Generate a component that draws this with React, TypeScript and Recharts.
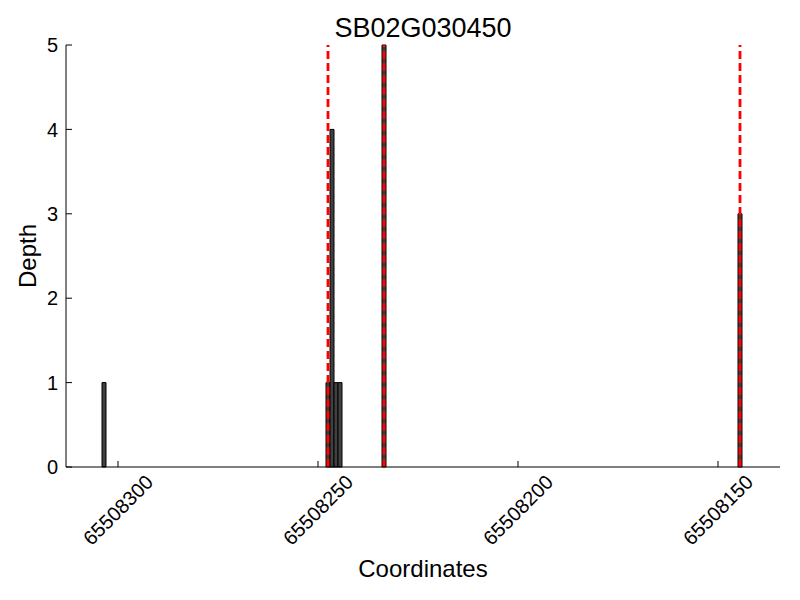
import { BarChart, Bar, XAxis, YAxis, ReferenceLine, Label } from 'recharts';

const FONT = "'Liberation Sans', Arial, Helvetica, sans-serif";

// coverage bins: start coordinate of each 1-bp bin and its read depth
const binStarts = [65508304, 65508248, 65508247, 65508246, 65508245, 65508234, 65508145];
const depths = [1, 1, 4, 1, 1, 5, 3];

// red dashed marker positions
const markers = [65508247.5, 65508233.5, 65508144.5];

const xTicks = [65508300, 65508250, 65508200, 65508150];
const yTicks = [0, 1, 2, 3, 4, 5];

const data = binStarts.map((start, i) => ({ x: start - 0.5, depth: depths[i] }));

function XTick({ x, y, payload }: any) {
  const cy = y + 43;
  return (
    <text
      x={x}
      y={cy}
      transform={`rotate(-45 ${x} ${cy})`}
      textAnchor="middle"
      dominantBaseline="central"
      fontSize={20}
      fontFamily={FONT}
      fill="#000"
    >
      {payload.value}
    </text>
  );
}

export default function App() {
  return (
    <div style={{ position: 'absolute', left: 0, top: 0, width: 800, height: 600, background: '#fff' }}>
      <div
        style={{
          position: 'absolute',
          left: 66,
          width: 714,
          top: 13,
          textAlign: 'center',
          fontSize: 27,
          lineHeight: '30px',
          fontFamily: FONT,
          color: '#000',
        }}
      >
        SB02G030450
      </div>
      <BarChart
        width={800}
        height={600}
        data={data}
        margin={{ top: 45, right: 20, bottom: 23, left: 6 }}
        barCategoryGap={0}
        barGap={0}
      >
        <XAxis
          type="number"
          dataKey="x"
          domain={[65508134.5, 65508313]}
          reversed
          allowDataOverflow
          ticks={xTicks}
          interval={0}
          height={110}
          tickSize={-6}
          tickMargin={6}
          tick={<XTick />}
          axisLine={{ stroke: '#000' }}
          tickLine={{ stroke: '#000' }}
        >
          <Label
            value="Coordinates"
            position="insideBottom"
            offset={0}
            style={{ fontSize: 24, fill: '#000', fontFamily: FONT }}
          />
        </XAxis>
        <YAxis
          type="number"
          domain={[0, 5]}
          ticks={yTicks}
          interval={0}
          width={60}
          tickSize={-6}
          tickMargin={14}
          tick={{ fontSize: 20, fill: '#000', fontFamily: FONT }}
          axisLine={{ stroke: '#000' }}
          tickLine={{ stroke: '#000' }}
        >
          <Label
            content={({ viewBox }: any) => {
              const cx = viewBox.x + 21;
              const cy = viewBox.y + viewBox.height / 2;
              return (
                <text
                  x={cx}
                  y={cy}
                  transform={`rotate(-90 ${cx} ${cy})`}
                  textAnchor="middle"
                  dominantBaseline="central"
                  fontSize={24}
                  fontFamily={FONT}
                  fill="#000"
                >
                  Depth
                </text>
              );
            }}
          />
        </YAxis>
        <Bar dataKey="depth" fill="#404040" stroke="#000" strokeWidth={1} isAnimationActive={false} />
        {markers.map((m) => (
          <ReferenceLine
            key={m}
            x={m}
            stroke="#ff0000"
            strokeWidth={2.8}
            strokeDasharray="8 4"
            ifOverflow="visible"
          />
        ))}
      </BarChart>
    </div>
  );
}
